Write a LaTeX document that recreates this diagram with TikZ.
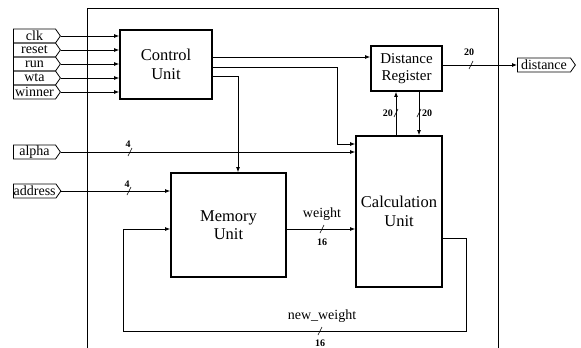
\documentclass[tikz,border=0pt]{standalone}
\usepackage{fontspec}
\setmainfont{Liberation Serif}
\usetikzlibrary{arrows.meta, calc, positioning, shapes.symbols}

\tikzset{
  unit/.style={draw, line width=1.8pt, align=center, font=\fontsize{16.5}{18.5}\selectfont, inner sep=0pt},
  port/.style={draw, line width=0.8pt, signal, signal to=east, signal pointer angle=110,
    minimum height=14pt, minimum width=47pt, inner sep=0.3pt, font=\fontsize{14}{14}\selectfont},
  wire/.style={line width=0.8pt},
  arr/.style={wire, -{Latex[length=5pt,width=4pt]}},
  bw/.style={font=\fontsize{10}{10}\selectfont\bfseries, inner sep=1pt},
  busmark/.pic={\draw[line width=0.6pt] (-2,4) -- (2,-4);}
}

\begin{document}
\begin{tikzpicture}[x=1pt, y=-1pt]
\useasboundingbox (0,0) rectangle (581,348);
% chip boundary
\draw[line width=1pt] (87,348) -- (87,8) -- (498,8) -- (498,348);

% units
\node[unit, minimum width=92pt, minimum height=69pt] (ctrl) at (166,64.5) {Control\\Unit};
\node[unit, minimum width=71pt, minimum height=45pt, font=\fontsize{15}{17}\selectfont] (dreg) at (406.5,68.5) {Distance\\Register};
\node[unit, minimum width=86pt, minimum height=151pt] (calc) at (399,211.5) {Calculation\\Unit};
\node[unit, minimum width=115pt, minimum height=104pt] (mem) at (228.5,225) {Memory\\Unit};

% ports
\node[port, anchor=west] (clk) at (13,36) {clk};
\node[port, anchor=west] (reset) at (13,50) {reset};
\node[port, anchor=west] (run) at (13,64) {run};
\node[port, anchor=west] (wta) at (13,78) {wta};
\node[port, anchor=west] (winner) at (13,92) {winner};
\node[port, anchor=west] (alpha) at (13,152) {alpha};
\node[port, anchor=west] (address) at (13,191) {address};
\node[port, anchor=west, minimum width=58pt] (dist) at (517,65) {distance};

% control inputs
\foreach \p in {clk,reset,run,wta,winner}
  \draw[arr] (\p.east) -- (\p.east -| ctrl.west);

% control outputs
\draw[arr] (ctrl.east |- 0,57) -- (dreg.west |- 0,57);
\draw[arr] (ctrl.east |- 0,67) -- (337,67) -- (337,144) -- (calc.west |- 0,144);
\draw[arr] (ctrl.east |- 0,76) -| ([xshift=9.5pt]mem.north);

% data inputs
\draw[arr] (alpha.east) -- (alpha.east -| calc.west);
\path (130,152) pic {busmark};
\node[bw] (alphaw) at (128,144) {4};
\draw[arr] (address.east) -- (address.east -| mem.west);
\path (129,191) pic {busmark};
\node[bw] (addrw) at (127,184) {4};

% weight path
\draw[arr] (mem.east |- 0,229) -- (calc.west |- 0,229);
\path (322,229) pic {busmark};
\node[font=\fontsize{14}{14}\selectfont] (wlbl) at (322,214) {weight};
\node[bw] (ww) at (322,242) {16};

\draw[arr] (calc.east |- 0,238) -- (466,238) -- (466,331) -- (123,331) -- (123,229) -- (mem.west |- 0,229);
\path (320,331) pic {busmark};
\node[font=\fontsize{14}{14}\selectfont] (nwlbl) at (322,316) {new\_weight};
\node[bw] (nww) at (320,343) {16};

% distance register links
\draw[arr] (calc.north -| 396,0) -- (dreg.south -| 396,0);
\path (396,113) pic {busmark};
\node[bw, left] (dw1) at (394,113) {20};
\draw[arr] (dreg.south -| 419,0) -- (calc.north -| 419,0);
\path (419,113) pic {busmark};
\node[bw, right] (dw2) at (421,113) {20};

\draw[arr] (dreg.east |- dist.west) -- (dist.west);
\path (471,65) pic {busmark};
\node[bw] (dw3) at (469,52) {20};
\end{tikzpicture}
\end{document}
